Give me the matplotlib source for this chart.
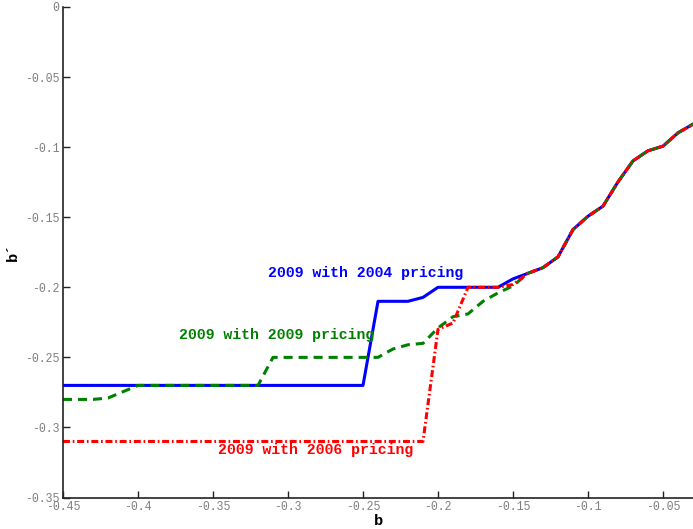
import matplotlib
matplotlib.use("Agg")
import matplotlib.pyplot as plt

plt.rcParams["font.family"] = ["Liberation Mono", "DejaVu Sans Mono"]
plt.rcParams["axes.unicode_minus"] = False
plt.rcParams["lines.scale_dashes"] = False

# common right-hand tail shared by all three policies
tail_x = [-0.14, -0.13, -0.12, -0.11, -0.10, -0.09, -0.08, -0.07, -0.06, -0.05, -0.04, -0.03]
tail_y = [-0.190, -0.186, -0.1783, -0.1588, -0.1493, -0.1421, -0.1248, -0.1098, -0.1026, -0.0993, -0.0898, -0.0836]

blue_x = [-0.45, -0.25, -0.24, -0.22, -0.21, -0.20, -0.16, -0.15] + tail_x
blue_y = [-0.27, -0.27, -0.21, -0.21, -0.2072, -0.20, -0.20, -0.194] + tail_y

green_x = [-0.45, -0.43, -0.42, -0.41, -0.40, -0.32, -0.31, -0.24, -0.23, -0.22, -0.21,
           -0.20, -0.19, -0.18, -0.17, -0.16, -0.15] + tail_x
green_y = [-0.28, -0.28, -0.279, -0.2745, -0.27, -0.27, -0.25, -0.25, -0.244, -0.241, -0.24,
           -0.229, -0.221, -0.219, -0.21, -0.204, -0.199] + tail_y

red_x = [-0.45, -0.21, -0.20, -0.19, -0.18, -0.16, -0.15] + tail_x
red_y = [-0.31, -0.31, -0.23, -0.2255, -0.20, -0.20, -0.198] + tail_y

x_ticks = [-0.45, -0.4, -0.35, -0.3, -0.25, -0.2, -0.15, -0.1, -0.05]
y_ticks = [-0.35, -0.3, -0.25, -0.2, -0.15, -0.1, -0.05, 0]

fig = plt.figure(figsize=(6.93, 5.29), dpi=100)
ax = fig.add_axes([0.0909, 0.0595, 0.9091, 0.9273])

# blue underneath, dashed green then dash-dot red on top (as in the original)
ax.plot(blue_x, blue_y, color="#0000ff", lw=2.2)
ax.plot(green_x, green_y, color="#008000", lw=2.2, dashes=(6.5, 4.3))
ax.plot(red_x, red_y, color="#ff0000", lw=2.2, dashes=(5.0, 2.0, 1.2, 2.0))

txt = dict(fontsize=10.7, fontweight="bold", ha="left", va="baseline")
ax.text(-0.3131, -0.1926, "2009 with 2004 pricing", color="#0000ff", **txt)
ax.text(-0.3727, -0.2367, "2009 with 2009 pricing", color="#008000", **txt)
ax.text(-0.3465, -0.3193, "2009 with 2006 pricing", color="#ff0000", **txt)

ax.set_xlim(-0.45, -0.03)
ax.set_ylim(-0.35, 0)
ax.set_xticks(x_ticks, [f"{t:g}" for t in x_ticks])
ax.set_yticks(y_ticks, [f"{t:g}" for t in y_ticks])
ax.tick_params(direction="in", length=5, width=1, color="#222222", labelcolor="#7f7f7f",
               labelsize=8.3, pad=2.5)
for side in ("top", "right"):
    ax.spines[side].set_visible(False)
for side in ("left", "bottom"):
    ax.spines[side].set_color("#222222")
    ax.spines[side].set_linewidth(1.2)

ax.set_xlabel("b", fontsize=11, fontweight="bold", labelpad=1)
ax.set_ylabel("b´", fontsize=11, fontweight="bold", labelpad=4)

fig.savefig("out.png", dpi=100)
